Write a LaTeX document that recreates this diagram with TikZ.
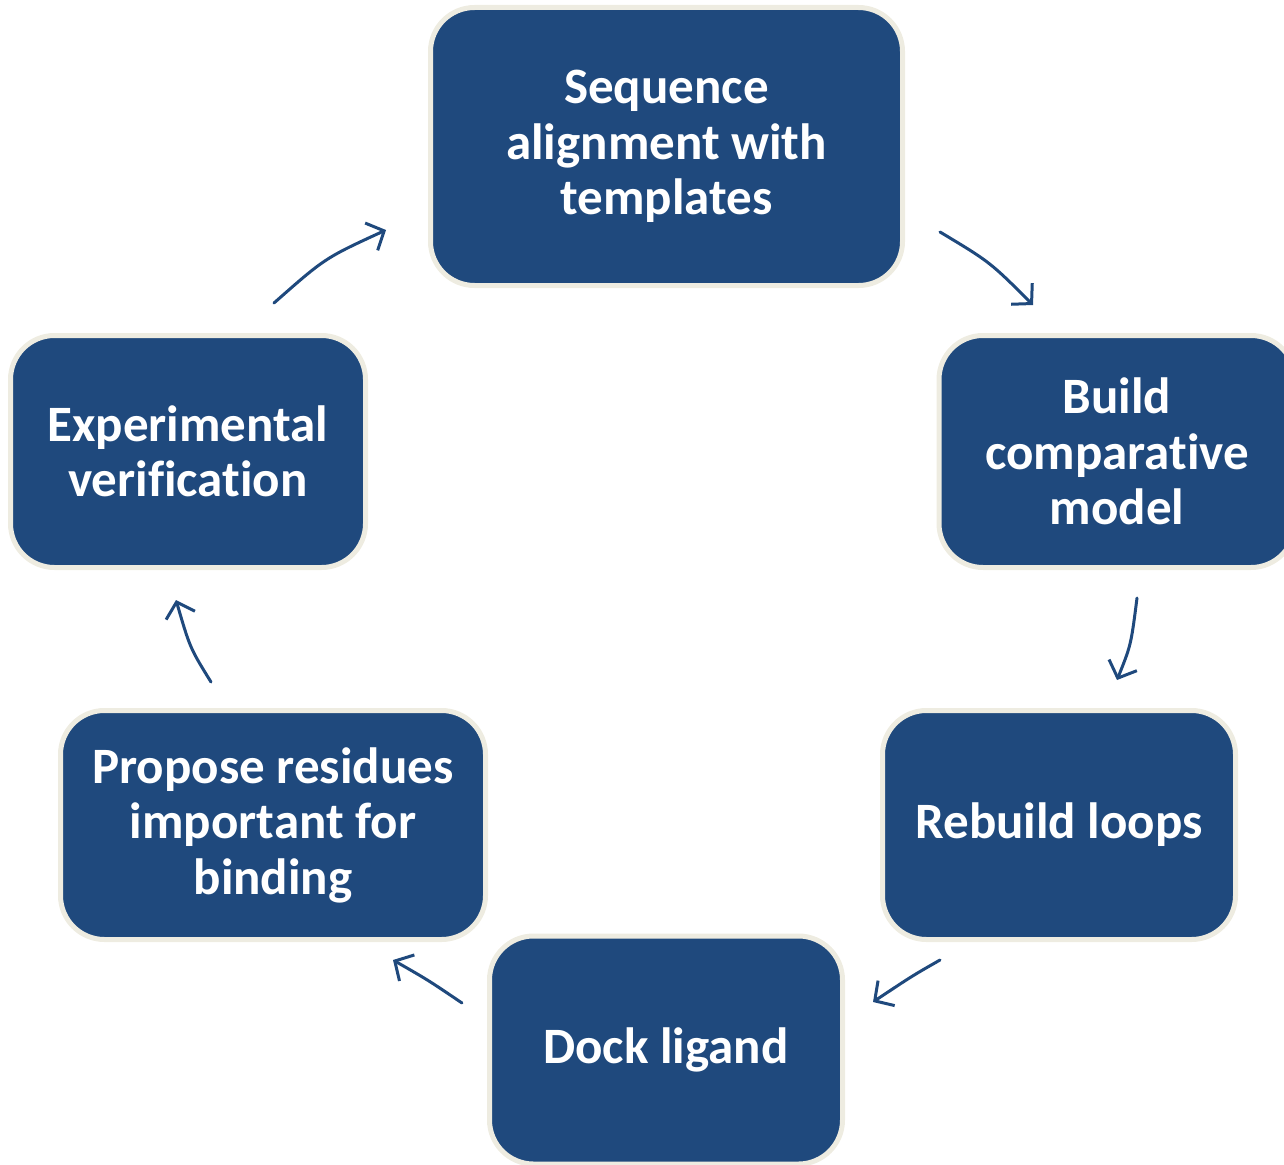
\documentclass[tikz,border=0pt]{standalone}
\usepackage{fontspec}
\setmainfont[Ligatures=NoCommon]{Carlito}
\usetikzlibrary{arrows.meta}
\definecolor{boxblue}{HTML}{1F497D}
\definecolor{boxrim}{HTML}{EEECE1}
\begin{document}
\begin{tikzpicture}[x=1pt,y=-1pt,
  stagebox/.style={draw=boxrim, line width=5pt, fill=boxblue, rounded corners=44pt,
    text=white, align=center, inner sep=0pt,
    font=\fontsize{51}{55.5}\selectfont\bfseries},
  flow/.style={draw=boxblue, line width=3pt, line cap=round,
    -{Straight Barb[length=14pt,width=30pt,line width=3pt]}}]
\useasboundingbox (0,0) rectangle (1284,1164);
\clip (0,0) rectangle (1284,1164);

% the six stages of the cycle
\node[stagebox, minimum width=472pt, minimum height=278pt] (align) at (666.5,146.5)
  {Sequence\\alignment with\\templates};
\node[stagebox, minimum width=356pt, minimum height=232pt] (build) at (1117,451.5)
  {Build\\comparative\\model};
\node[stagebox, minimum width=353pt, minimum height=229pt] (loops) at (1059,825)
  {Rebuild loops};
\node[stagebox, minimum width=353pt, minimum height=228pt] (dock) at (666,1050)
  {Dock ligand};
\node[stagebox, minimum width=425pt, minimum height=229pt] (propose) at (273,825)
  {Propose residues\\important for\\binding};
\node[stagebox, minimum width=355pt, minimum height=232pt] (verify) at (188,451.5)
  {Experimental\\verification};

% connector end points between neighbouring stages
\coordinate (a1) at (940,232);   \coordinate (b1) at (1033,305);
\coordinate (a2) at (1137,598);  \coordinate (b2) at (1117,680);
\coordinate (a3) at (940,960);   \coordinate (b3) at (873,1002);
\coordinate (a4) at (462,1003);  \coordinate (b4) at (393,960);
\coordinate (a5) at (211,682);   \coordinate (b5) at (176,600);
\coordinate (a6) at (274,303);   \coordinate (b6) at (386,230);

\draw[flow] (a1) .. controls (990,262) .. (b1);
\draw[flow] (a2) .. controls (1131,645) .. (b2);
\draw[flow] (a3) .. controls (912,976) .. (b3);
\draw[flow] (a4) .. controls (428,980) .. (b4);
\draw[flow] (a5) .. controls (190,648) .. (b5);
\draw[flow] (a6) .. controls (325,258) .. (b6);
\end{tikzpicture}
\end{document}
